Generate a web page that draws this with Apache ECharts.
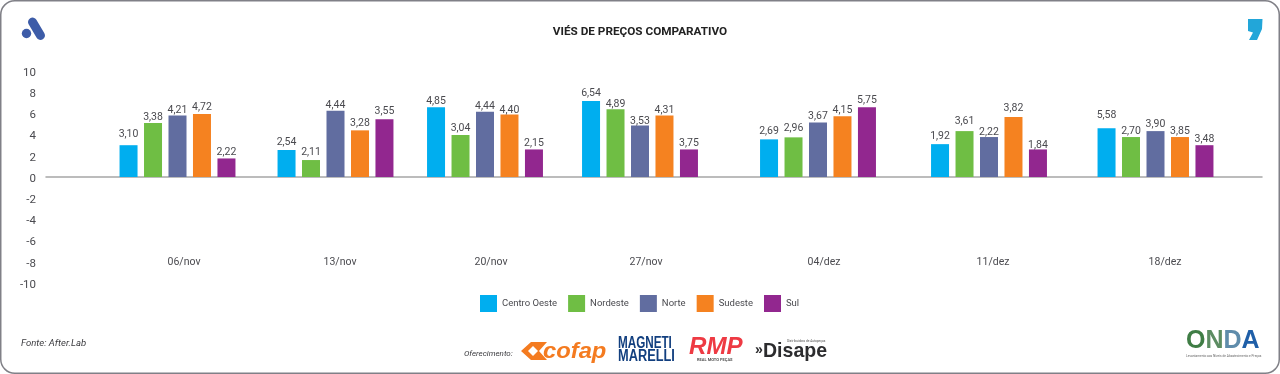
<!DOCTYPE html>
<html><head><meta charset="utf-8">
<style>html,body{margin:0;padding:0;background:#fff}#c{width:1280px;height:374px}</style>
<script src="https://cdn.jsdelivr.net/npm/echarts@6/dist/echarts.min.js"></script>
</head><body><div id="c"></div>
<script>
const categories = ['06/nov','13/nov','20/nov','27/nov','04/dez','11/dez','18/dez'];
const seriesNames = ['Centro Oeste','Nordeste','Norte','Sudeste','Sul'];
const yTicks = {min:-10,max:10,interval:2};
// bar heights as drawn in the picture
const centroOeste = [3.0,2.55,6.57,7.17,3.55,3.1,4.6];
const nordeste    = [5.1,1.6,3.96,6.38,3.74,4.33,3.77];
const norte       = [5.8,6.25,6.16,4.87,5.15,3.77,4.33];
const sudeste     = [5.95,4.4,5.9,5.8,5.72,5.66,3.77];
const sul         = [1.75,5.45,2.6,2.6,6.57,2.6,3.0];
// printed value labels (they differ from bar heights in the source)
const labelCentroOeste = ['3,10','2,54','4,85','6,54','2,69','1,92','5,58'];
const labelNordeste    = ['3,38','2,11','3,04','4,89','2,96','3,61','2,70'];
const labelNorte       = ['4,21','4,44','4,44','3,53','3,67','2,22','3,90'];
const labelSudeste     = ['4,72','3,28','4,40','4,31','4,15','3,82','3,85'];
const labelSul         = ['2,22','3,55','2,15','3,75','5,75','1,84','3,48'];

const valueSets = [centroOeste,nordeste,norte,sudeste,sul];
const labelSets = [labelCentroOeste,labelNordeste,labelNorte,labelSudeste,labelSul];
const colors = ['#00AEEF','#6FBE44','#616DA0','#F58220','#92278F'];

// layout only: the source spaces its groups and labels unevenly
const groupCentres = [177.5,335.5,485,640,818,989,1155.5];
const catLabelShift = [13,9,12,12,12,8,19];
const labelDistance = [
  [5,0,0,1,1],[2,2,0,1,2],[0,1,0,-1,1],[2,-1,-1,0,1],[2,3,1,0,1],[2,4,-1,3,-1],[7,0,1,0,0]
];
const FONT = 'Roboto, sans-serif', TXT = '#4a4a4f';
const TOP = 71, H = 212, GW = 140;

// grid 0: baseline only
const grid = [{left:46,right:18,top:TOP,height:H}];
const xAxis = [{gridIndex:0,type:'value',min:0,max:1,axisLine:{show:true,onZero:true,lineStyle:{color:'#a6a6a6',width:1.5}},axisTick:{show:false},axisLabel:{show:false},splitLine:{show:false}}];
const yAxis = [{gridIndex:0,type:'value',show:false,min:yTicks.min,max:yTicks.max,interval:yTicks.interval,splitLine:{show:false}}];
const series = [];
categories.forEach((cat,i)=>{
  const g = i+1;
  grid.push({left:groupCentres[i]-GW/2,width:GW,top:TOP,height:H});
  xAxis.push({gridIndex:g,type:'category',data:[cat],axisLine:{show:false,onZero:false},axisTick:{show:false},splitLine:{show:false},
    axisLabel:{color:TXT,fontFamily:FONT,fontSize:10.5,margin:-26,padding:[0,0,0,catLabelShift[i]]}});
  yAxis.push({gridIndex:g,type:'value',show:false,min:yTicks.min,max:yTicks.max,interval:yTicks.interval,splitLine:{show:false}});
  seriesNames.forEach((name,s)=>{
    series.push({type:'bar',name,xAxisIndex:g,yAxisIndex:g,barWidth:18,barGap:'36%',
      itemStyle:{color:colors[s]},data:[valueSets[s][i]],animation:false,
      label:{show:true,position:'top',distance:labelDistance[i][s],color:TXT,fontFamily:FONT,fontSize:10.5,formatter:()=>labelSets[s][i]}});
  });
});
// last grid: the y tick labels, which sit slightly below the bar scale in the source
const tg = grid.length;
grid.push({left:46,right:18,top:TOP+2,height:H});
xAxis.push({gridIndex:tg,type:'value',show:false,min:0,max:1,splitLine:{show:false}});
yAxis.push({gridIndex:tg,type:'value',min:yTicks.min,max:yTicks.max,interval:yTicks.interval,axisLine:{show:false},axisTick:{show:false},splitLine:{show:false},axisLabel:{color:TXT,fontFamily:FONT,fontSize:11.5,margin:10}});

const LIB='"Liberation Sans", sans-serif';
const gtext=(x,y,text,style,extra)=>Object.assign({type:'text',x,y,style:Object.assign({text,fontFamily:FONT,fill:TXT,textVerticalAlign:'middle'},style)},extra||{});
const graphic=[
  {type:'rect',shape:{x:0.75,y:0.75,width:1278.5,height:372.5,r:14},style:{fill:'none',stroke:'#808087',lineWidth:1.5},silent:true},
  {type:'line',shape:{x1:32.5,y1:22,x2:40.5,y2:35.5},style:{stroke:'#3D5CA8',lineWidth:9,lineCap:'round'}},
  {type:'circle',shape:{cx:26.5,cy:33.5,r:4.7},style:{fill:'#3D5CA8'}},
  {type:'polygon',shape:{points:[[1248,19],[1262.5,19],[1262,29],[1257,40],[1249,40],[1253,32.5],[1248,31]]},style:{fill:'#22A6D9'}},
  gtext(21,344,'Fonte: After.Lab',{fontSize:9.5,fontStyle:'italic',fill:'#3c3c40'}),
  gtext(464,353.5,'Oferecimento:',{fontSize:8,fontStyle:'italic',fill:'#3c3c40'}),
  // cofap
  {type:'polygon',shape:{points:[[521,351],[531,342],[547,342],[539,351],[547,360],[531,360]]},style:{fill:'#F47B20'}},
  {type:'polygon',shape:{points:[[528,351],[533,346],[538,351],[533,356]]},style:{fill:'#fff'}},
  gtext(543,351.5,'cofap',{fontSize:22,fontWeight:'bold',fontStyle:'italic',fill:'#F47B20',fontFamily:LIB},{scaleX:1.08}),
  // magneti marelli
  gtext(618,344,'MAGNETI',{fontSize:16,fontWeight:'bold',fill:'#123F7F',fontFamily:LIB},{scaleX:0.73}),
  gtext(618,357,'MARELLI',{fontSize:16,fontWeight:'bold',fill:'#123F7F',fontFamily:LIB},{scaleX:0.8}),
  // rmp
  gtext(689,348,'RMP',{fontSize:23,fontWeight:'bold',fontStyle:'italic',fill:'#EE3A43',fontFamily:LIB},{scaleX:1.05}),
  gtext(697,360,'REAL MOTO PEÇAS',{fontSize:4,fontWeight:'bold',fill:'#555'}),
  // disape
  gtext(755,350,'»',{fontSize:14,fontWeight:'bold',fill:'#2c2c2e',fontFamily:LIB}),
  gtext(763,351,'Disape',{fontSize:21,fontWeight:'bold',fill:'#2c2c2e',fontFamily:LIB},{scaleX:0.93}),
  gtext(787,341,'Distribuidora de Autopeças',{fontSize:3.2,fill:'#555'}),
  // onda
  gtext(1186,341,'O',{fontSize:25,fontWeight:'bold',fill:'#3F7D45',fontFamily:LIB}),
  gtext(1205.5,341,'N',{fontSize:25,fontWeight:'bold',fill:'#5C8C62',fontFamily:LIB}),
  gtext(1223.5,341,'D',{fontSize:25,fontWeight:'bold',fill:'#5F8CAB',fontFamily:LIB}),
  gtext(1241.5,341,'A',{fontSize:25,fontWeight:'bold',fill:'#1F5FA8',fontFamily:LIB}),
  gtext(1186,356,'Levantamento aos Níveis de Abastecimento e Preços',{fontSize:3.2,fill:'#666'})
];

const chart = echarts.init(document.getElementById('c'),null,{renderer:'canvas'});
chart.setOption({
  animation:false,
  backgroundColor:'#fff',
  title:{text:'VIÉS DE PREÇOS COMPARATIVO',left:'center',top:21,textStyle:{fontFamily:FONT,fontSize:11.75,fontWeight:'bold',color:'#222'}},
  legend:{data:seriesNames,left:475,top:290,itemWidth:17,itemHeight:17,itemGap:11,icon:'rect',selectedMode:false,
    textStyle:{fontFamily:FONT,fontSize:9.5,color:TXT}},
  grid,xAxis,yAxis,series,graphic
});
</script></body></html>
